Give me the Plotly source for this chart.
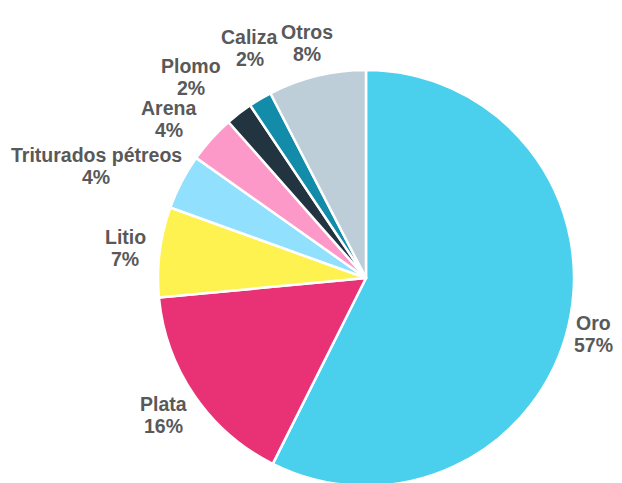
import math
import plotly.graph_objects as go

labels = ["Oro", "Plata", "Litio", "Triturados pétreos", "Arena", "Plomo", "Caliza", "Otros"]
values = [57.4, 16.1, 7.0, 4.3, 3.7, 2.1, 1.8, 7.6]
colors = ["#4ACFEC", "#E83275", "#FEF250", "#91E0FD", "#FD99C9", "#22343F", "#138CAA", "#BDCED8"]

W, H = 622, 483
FS = 19.5
# pie geometry in figure pixels (page body has an 8px margin)
PX0, PX1 = 150, 566
PY0, PY1 = 62, 478
dom_x = [PX0 / W, PX1 / W]
dom_y = [(H - PY1) / H, (H - PY0) / H]
cx = (PX0 + PX1) / 2
cy = (PY0 + PY1) / 2
R = min(PX1 - PX0, PY1 - PY0) / 2

fig = go.Figure(go.Pie(
    labels=labels, values=values, sort=False, direction="clockwise", rotation=0,
    marker=dict(colors=colors, line=dict(color="white", width=2.5)),
    textinfo="none", hoverinfo="label+percent", showlegend=False,
    domain=dict(x=dom_x, y=dom_y),
))

# approximate bold sans glyph widths (per 1000 em) for label layout
GW = {"O": 778, "r": 389, "o": 611, "P": 667, "l": 278, "a": 556, "t": 333, "L": 611,
      "i": 278, "T": 611, "u": 611, "d": 611, "s": 556, " ": 278, "p": 611, "é": 556,
      "e": 556, "A": 722, "n": 611, "m": 889, "C": 722, "z": 500, "%": 800}


def text_w(t):
    return sum(GW.get(ch, 556) for ch in t) * FS / 1000


total = sum(values)
n = len(values)
mids, pcts, widths = [], [], []
cum = 0.0
for lab, v in zip(labels, values):
    frac = v / total
    mids.append((cum + frac / 2) * 360)
    cum += frac
    pct = f"{round(frac * 100)}%"
    pcts.append(pct)
    widths.append(max(text_w(lab), text_w(pct)))

HB = 40  # label block height
RR = R + 14


def place(i, a, dr):
    t = math.radians(a)
    s, c = math.sin(t), math.cos(t)
    x = cx + (RR + dr) * s + s * widths[i] / 2
    y = cy - (RR + dr) * c - c * HB / 2
    x = min(max(x, widths[i] / 2 + 2), W - 18 - widths[i] / 2)
    return x, y


angs = list(mids)
rads = [0.0] * n
for _ in range(3000):
    moved = False
    pos = [place(i, angs[i], rads[i]) for i in range(n)]
    for i in range(n - 1):
        j = i + 1
        (xi, yi), (xj, yj) = pos[i], pos[j]
        if abs(xi - xj) < (widths[i] + widths[j]) / 2 + 1 and abs(yi - yj) < HB + 2:
            angs[i] -= 0.08
            angs[j] += 0.08
            rads[i] += 0.25
            rads[j] += 0.25
            moved = True
    if not moved:
        break

font = dict(family="Liberation Sans, Arial, sans-serif", size=FS, color="#595959", weight="bold")
for i in range(n):
    px, py = place(i, angs[i], rads[i])
    for txt, dy in ((labels[i], -11), (pcts[i], 11)):
        fig.add_annotation(
            x=px / W, y=1 - (py + dy) / H, xref="paper", yref="paper",
            text=txt, showarrow=False, xanchor="center", yanchor="middle", font=font,
        )

fig.update_layout(
    width=W, height=H, margin=dict(l=0, r=0, t=0, b=0),
    paper_bgcolor="white", plot_bgcolor="white",
)
fig.write_html("out.html")
